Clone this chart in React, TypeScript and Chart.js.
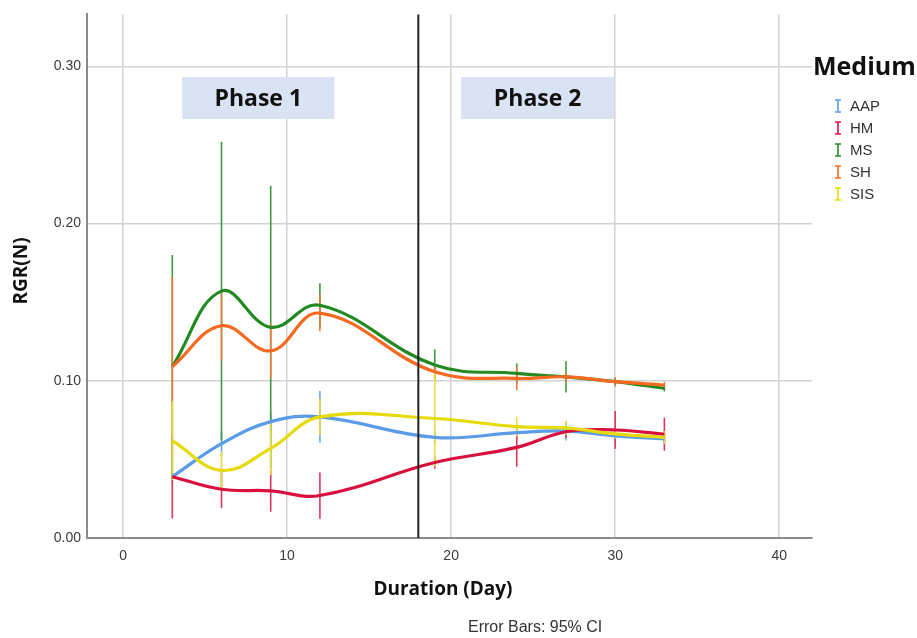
import React, { useEffect, useRef } from 'react';
import { Chart, registerables } from 'chart.js';

Chart.register(...registerables);

// ---- data ----
const days = [3, 6, 9, 12, 19, 24, 27, 30, 33];
const seriesNames = ['AAP', 'HM', 'MS', 'SH', 'SIS'];

const aapMean = [0.039, 0.06, 0.074, 0.077, 0.064, 0.067, 0.068, 0.065, 0.063];
const aapCI = [0.004, 0.008, 0.006, 0.0165, 0.004, 0.004, 0.006, 0.004, 0.003];
const hmMean = [0.039, 0.031, 0.03, 0.027, 0.048, 0.0576, 0.0676, 0.0687, 0.066];
const hmCI = [0.0265, 0.012, 0.0133, 0.0147, 0.004, 0.0123, 0.004, 0.012, 0.0105];
const msMean = [0.109, 0.157, 0.134, 0.148, 0.11, 0.1047, 0.1025, 0.0995, 0.0952];
const msCI = [0.071, 0.095, 0.09, 0.014, 0.01, 0.0063, 0.01, 0.002, 0.002];
const shMean = [0.109, 0.135, 0.119, 0.143, 0.1057, 0.1015, 0.1025, 0.0994, 0.0973];
const shCI = [0.057, 0.022, 0.0173, 0.0115, 0.004, 0.0075, 0.003, 0.003, 0.002];
const sisMean = [0.062, 0.043, 0.057, 0.077, 0.076, 0.0708, 0.07, 0.0662, 0.064];
const sisCI = [0.025, 0.012, 0.017, 0.0115, 0.0305, 0.0063, 0.0046, 0.003, 0.004];

const xTicks = [0, 10, 20, 30, 40];
const yTicks = [0, 0.1, 0.2, 0.3];
const phaseLabels = ['Phase 1', 'Phase 2'];
const phaseBoundaryDay = 18;

// ---- styles / layout ----
const seriesColors = ['#5b9be8', '#d9103e', '#238a22', '#f56a20', '#e6da0a'];
const barColors = ['#6aa6ec', '#e0365e', '#3f9a3f', '#f07a38', '#e8de3a'];
const phaseBoxes = [
  { x0: 3.6, x1: 12.88, y0: 0.2665, y1: 0.2932 },
  { x0: 20.6, x1: 29.95, y0: 0.2665, y1: 0.2932 },
];

export default function App() {
  const ref = useRef<HTMLCanvasElement>(null);

  useEffect(() => {
    const canvas = ref.current;
    if (!canvas) return;
    const means = [aapMean, hmMean, msMean, shMean, sisMean];
    const cis = [aapCI, hmCI, msCI, shCI, sisCI];

    const datasets = seriesNames.map((name, i) => ({
      label: name,
      data: days.map((d, j) => ({ x: d, y: means[i][j] })),
      borderColor: seriesColors[i],
      backgroundColor: seriesColors[i],
      borderWidth: 3.2,
      pointRadius: 0,
      tension: 0.4,
      fill: false,
      order: seriesNames.length - i,
    }));

    const overlay = {
      id: 'overlay',
      beforeDatasetsDraw(chart: any) {
        const { ctx, scales } = chart;
        const x = scales.x;
        const y = scales.y;
        ctx.save();
        // phase boxes
        phaseBoxes.forEach((b, k) => {
          const px0 = x.getPixelForValue(b.x0);
          const px1 = x.getPixelForValue(b.x1);
          const py0 = y.getPixelForValue(b.y1);
          const py1 = y.getPixelForValue(b.y0);
          ctx.fillStyle = '#dae3f3';
          ctx.fillRect(px0, py0, px1 - px0, py1 - py0);
          ctx.fillStyle = '#111';
          ctx.font = 'bold 23px "Open Sans"';
          ctx.textAlign = 'center';
          ctx.textBaseline = 'middle';
          ctx.fillText(phaseLabels[k], (px0 + px1) / 2, (py0 + py1) / 2 + 1);
        });
        // error bars
        ctx.lineWidth = 1.6;
        ctx.lineCap = 'butt';
        for (let i = 0; i < seriesNames.length; i++) {
          ctx.strokeStyle = barColors[i];
          for (let j = 0; j < days.length; j++) {
            const px = x.getPixelForValue(days[j]);
            ctx.beginPath();
            ctx.moveTo(px, y.getPixelForValue(means[i][j] - cis[i][j]));
            ctx.lineTo(px, y.getPixelForValue(means[i][j] + cis[i][j]));
            ctx.stroke();
          }
        }
        ctx.restore();
      },
      afterDatasetsDraw(chart: any) {
        const { ctx, scales, chartArea } = chart;
        const px = scales.x.getPixelForValue(phaseBoundaryDay);
        ctx.save();
        ctx.strokeStyle = '#222';
        ctx.lineWidth = 2;
        ctx.beginPath();
        ctx.moveTo(px, chartArea.top);
        ctx.lineTo(px, chartArea.bottom);
        ctx.stroke();
        ctx.restore();
      },
      afterDraw(chart: any) {
        const { ctx } = chart;
        ctx.save();
        ctx.fillStyle = '#111';
        // y title
        ctx.font = 'bold 19px "Open Sans"';
        ctx.textAlign = 'center';
        ctx.textBaseline = 'middle';
        ctx.save();
        ctx.translate(22, 271);
        ctx.rotate(-Math.PI / 2);
        ctx.fillText('RGR(N)', 0, 0);
        ctx.restore();
        // x title
        ctx.font = 'bold 19px "Open Sans"';
        ctx.fillText('Duration (Day)', 443, 590);
        // footnote
        ctx.fillStyle = '#333';
        ctx.font = '16px "Liberation Sans"';
        ctx.textAlign = 'left';
        ctx.fillText('Error Bars: 95% CI', 468, 628);
        // legend
        ctx.fillStyle = '#111';
        ctx.font = 'bold 25px "Open Sans"';
        ctx.textAlign = 'left';
        ctx.fillText('Medium', 813, 68);
        ctx.font = '15px "Liberation Sans"';
        seriesNames.forEach((name, i) => {
          const cy = 106 + i * 22;
          ctx.strokeStyle = seriesColors[i];
          ctx.lineWidth = 1.6;
          ctx.beginPath();
          ctx.moveTo(838, cy - 6);
          ctx.lineTo(838, cy + 6);
          ctx.moveTo(835, cy - 6);
          ctx.lineTo(841, cy - 6);
          ctx.moveTo(835, cy + 6);
          ctx.lineTo(841, cy + 6);
          ctx.stroke();
          ctx.fillStyle = '#333';
          ctx.fillText(name, 850, cy + 1);
        });
        ctx.restore();
      },
    };

    const chart = new Chart(canvas, {
      type: 'line',
      data: { datasets: datasets as any },
      options: {
        responsive: false,
        animation: false,
        devicePixelRatio: 1,
        layout: { padding: { top: 14, right: 105, left: 0, bottom: 0 } },
        plugins: { legend: { display: false }, tooltip: { enabled: false } },
        scales: {
          x: {
            type: 'linear',
            min: -2.2,
            max: 42,
            afterBuildTicks: (s: any) => {
              s.ticks = xTicks.map((v) => ({ value: v }));
            },
            afterFit: (s: any) => {
              s.height = 100;
            },
            grid: { color: '#d2d2d2', lineWidth: 1.5, drawTicks: false },
            border: { display: true, color: '#8a8a8a', width: 2 },
            ticks: {
              padding: 10,
              color: '#3a3a3a',
              font: { family: 'Liberation Sans', size: 14 },
              callback: (v: any) => String(v),
            },
          },
          y: {
            type: 'linear',
            min: 0,
            max: 0.333,
            afterBuildTicks: (s: any) => {
              s.ticks = yTicks.map((v) => ({ value: v }));
            },
            afterFit: (s: any) => {
              s.width = 87;
            },
            grid: { color: '#d2d2d2', lineWidth: 1.5, drawTicks: false },
            border: { display: true, color: '#8a8a8a', width: 2 },
            ticks: {
              padding: 6,
              color: '#3a3a3a',
              font: { family: 'Liberation Sans', size: 14 },
              callback: (v: any) => Number(v).toFixed(2),
            },
          },
        },
      },
      plugins: [overlay],
    });
    return () => chart.destroy();
  }, []);

  return (
    <div style={{ position: 'fixed', left: 0, top: 0, width: 917, height: 638, background: '#fff' }}>
      <canvas ref={ref} width={917} height={638} style={{ display: 'block' }} />
    </div>
  );
}
